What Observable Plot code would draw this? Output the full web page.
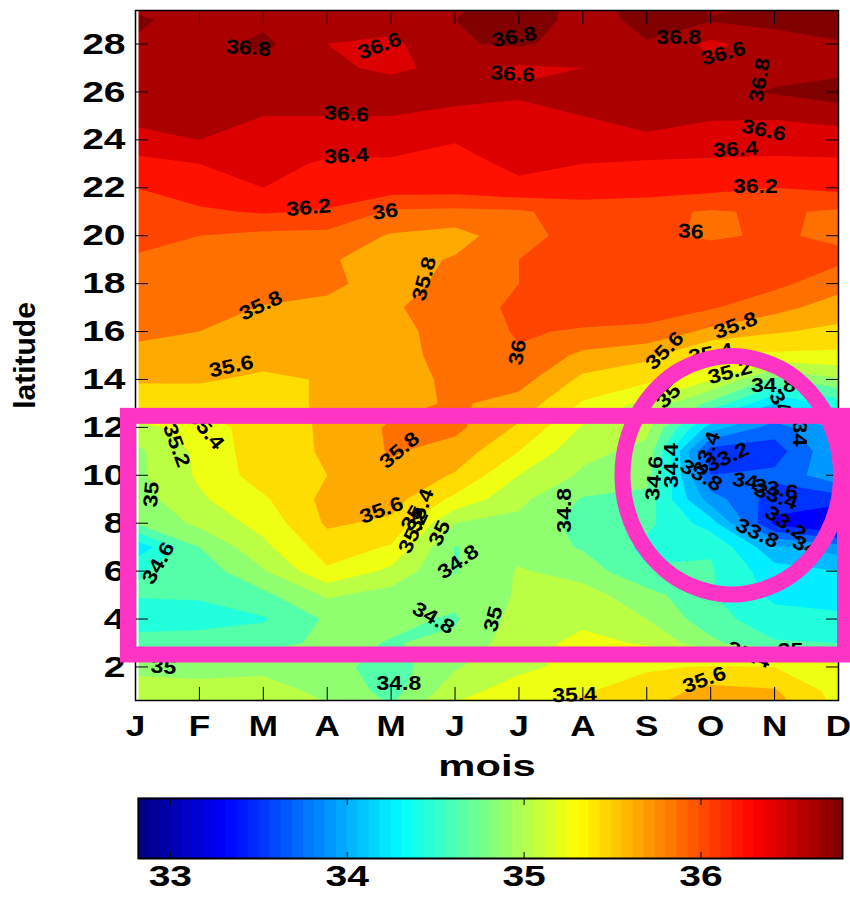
<!DOCTYPE html>
<html><head><meta charset="utf-8">
<script src="https://cdn.jsdelivr.net/npm/d3@7"></script>
<script src="https://cdn.jsdelivr.net/npm/@observablehq/plot@0.6"></script>
<style>html,body{margin:0;padding:0;background:#fff}svg{display:block}</style>
</head><body>
<div id="chart"></div>
<script>
const months = ["J","F","M","A","M","J","J","A","S","O","N","D"];
const monthTicks = [1,2,3,4,5,6,7,8,9,10,11,12];
const latTicks = [2,4,6,8,10,12,14,16,18,20,22,24,26,28];
const barTicks = [33,34,35,36];
const thresholds = [32.8,33,33.2,33.4,33.6,33.8,34,34.2,34.4,34.6,34.8,35,35.2,35.4,35.6,35.8,36,36.2,36.4,36.6,36.8];
const bandColors = ["#000099","#0000DD","#0000FF","#0033FF","#0066FF","#0099FF","#00BBFF","#00EEFF","#22FFDD","#55FFAA","#8FFF70","#BBFF44","#EEFF11","#FFDD00","#FFAA00","#FF7000","#FF4400","#FF1100","#DD0000","#AA0000","#800000"];

// salinity, one row per degree of latitude, one column per month
const lat00 = [35.1,35.1,35.1,35.03,34.85,35.3,35.42,35.5,35.62,35.8,35.75,35.38];
const lat01 = [35.05,35.05,35.05,34.97,34.72,35.12,35.3,35.38,35.5,35.66,35.62,35.32];
const lat02 = [34.97,34.95,34.97,34.88,34.7,34.98,35.15,35.27,35.37,35.42,35.4,35.33];
const lat03 = [34.72,34.72,34.72,34.85,34.79,34.84,35.12,35.25,35.18,34.85,34.62,34.6];
const lat04 = [34.45,34.5,34.58,34.83,34.84,34.78,35.08,35.16,35.0,34.68,34.48,34.45];
const lat05 = [34.62,34.63,34.75,35.03,34.92,34.85,35.02,35.08,34.88,34.62,34.35,34.3];
const lat06 = [34.58,34.68,34.98,35.37,35.15,34.79,35.02,34.92,34.62,34.62,34.28,34.2];
const lat07 = [34.25,34.8,35.15,35.5,35.38,34.79,34.92,34.78,34.55,34.58,34.05,33.9];
const lat08 = [34.8,35.05,35.27,35.63,35.56,35.0,34.95,34.72,34.65,34.3,33.35,33.1];
const lat09 = [34.9,35.17,35.37,35.66,35.68,35.35,35.05,34.78,34.72,33.9,33.5,33.5];
const lat10 = [34.95,35.23,35.5,35.6,35.75,35.58,35.2,34.97,34.9,33.6,33.65,33.95];
const lat11 = [34.95,35.25,35.52,35.62,35.82,35.72,35.4,35.05,34.95,33.5,33.5,34.0];
const lat12 = [35.12,35.3,35.5,35.63,35.83,35.85,35.57,35.18,35.05,34.1,33.7,34.05];
const lat13 = [35.5,35.45,35.5,35.64,35.72,35.83,35.72,35.38,35.15,34.75,34.2,34.5];
const lat14 = [35.62,35.63,35.55,35.62,35.7,35.85,35.88,35.55,35.45,35.22,34.75,34.98];
const lat15 = [35.75,35.72,35.7,35.68,35.72,35.88,35.98,35.75,35.65,35.35,35.36,35.35];
const lat16 = [35.84,35.8,35.74,35.72,35.74,35.88,36.02,35.98,35.95,35.75,35.62,35.55];
const lat17 = [35.89,35.87,35.79,35.76,35.78,35.88,36.05,36.1,36.1,36.02,35.87,35.7];
const lat18 = [35.93,35.93,35.88,35.84,35.72,35.86,36.0,36.12,36.12,36.1,36.05,35.88];
const lat19 = [35.98,35.96,35.92,35.82,35.72,35.82,36.0,36.12,36.1,36.08,36.08,36.04];
const lat20 = [36.06,36.0,35.95,35.94,35.78,35.72,35.93,36.08,36.03,35.98,36.02,35.97];
const lat21 = [36.13,36.17,36.22,36.18,35.97,35.95,35.97,36.1,36.05,35.98,36.03,35.97];
const lat22 = [36.2,36.3,36.4,36.32,36.3,36.29,36.36,36.3,36.3,36.26,36.2,36.25];
const lat23 = [36.33,36.4,36.47,36.37,36.37,36.34,36.44,36.4,36.37,36.36,36.35,36.36];
const lat24 = [36.53,36.6,36.53,36.5,36.48,36.41,36.5,36.52,36.57,36.52,36.5,36.52];
const lat25 = [36.66,36.64,36.6,36.6,36.6,36.58,36.56,36.6,36.66,36.62,36.62,36.66];
const lat26 = [36.68,36.68,36.68,36.66,36.65,36.63,36.62,36.66,36.7,36.72,36.82,36.92];
const lat27 = [36.7,36.7,36.72,36.62,36.58,36.63,36.57,36.6,36.7,36.63,36.72,36.72];
const lat28 = [36.78,36.72,36.85,36.6,36.55,36.78,36.83,36.72,36.79,36.55,36.72,36.78];
const lat29 = [36.83,36.73,36.75,36.7,36.7,36.8,36.92,36.72,36.85,36.82,36.85,36.9];
const lat30 = [36.72,36.7,36.72,36.7,36.7,36.7,36.95,36.72,36.92,36.72,36.78,36.95];
const salinity = [lat00,lat01,lat02,lat03,lat04,lat05,lat06,lat07,lat08,lat09,lat10,lat11,lat12,lat13,lat14,lat15,lat16,lat17,lat18,lat19,lat20,lat21,lat22,lat23,lat24,lat25,lat26,lat27,lat28,lat29,lat30].flat();

const labelText  = ["36.8","36.6","36.8","36.6","36.8","36.6","36.8","36.6","36.4","36.2","36","36.6","36.4","36.2","36","35.8","35.8","35.6","36","35.6","35.8","35.4","35.2","34.8","35","34","34","34.6","34.4","33.4","33.2","33.8","34","33.6","33.4","33.2","33.8","34","35.8","35.6","35.4","35","35.2","35","34.8","34.8","35","34.8","35.2","35.4","35","34.6","35","34.8","35.4","35.6","35.4","35"];
const labelMonth = [2.77,4.82,6.93,6.9,9.5,10.2,10.77,10.83,10.39,10.7,9.69,4.3,4.3,3.71,4.91,2.96,5.52,2.5,6.98,9.28,10.39,10,10.3,10.98,9.34,11.09,11.39,9.12,9.39,9.94,10.26,9.85,10.54,11.02,11.02,11.17,10.73,11.48,5.13,4.85,5.46,5.33,5.35,5.76,6.05,5.66,6.6,7.71,1.64,2.1,1.25,1.36,1.44,5.12,7.87,9.9,10.6,11.25];
const labelLat   = [27.83,27.92,28.29,26.75,28.25,27.6,26.5,24.4,23.6,22.04,20.17,25.08,23.33,21.17,21,17.08,18.2,14.54,15.13,15.2,16.25,15.08,14.3,13.75,13.3,13,11.75,9.88,10.4,10.92,10.75,10,9.75,9.42,9.12,8,7.58,7.04,11.04,8.54,8.54,8.21,7.63,7.58,6.38,4.04,4,8.54,11.25,11.9,9.2,6.33,2,1.3,0.83,1.46,2.5,2.7];
const labelAngle = [4,-20,-10,3,0,-15,-80,12,-3,0,3,3,-3,-5,-8,-25,-75,-12,-80,-45,-20,-10,-15,0,-45,60,90,-85,-90,-70,-25,30,10,10,20,35,25,25,-40,-20,-70,-60,-65,-65,-35,30,-75,-90,70,50,-85,-60,5,0,-2,-20,20,0];
const labels = labelText.map((t,i)=>({t,m:labelMonth[i],l:labelLat[i],a:labelAngle[i]}));

// hand-drawn pink annotations in month / latitude units
const boxMonth = [0.89,12.11];
const boxLat = [2.5,12.46];
const ringMonth = [12.04,11.81,11.19,10.33,9.47,8.85,8.62,8.85,9.47,10.33,11.19,11.81];
const ringLat = [10,12.49,14.31,14.98,14.31,12.49,10,7.51,5.69,5.02,5.69,7.51];
const ring = ringMonth.map((m,i)=>({m,l:ringLat[i]}));
const pink = "#FF33C4";

const font = "'Liberation Sans', Arial, sans-serif";

const main = Plot.plot({
  width:850, height:780, marginLeft:135, marginRight:12, marginTop:10, marginBottom:80,
  style:{fontFamily:font, background:"white", color:"black"},
  x:{domain:[1,12], axis:null}, y:{domain:[0.6,29.4], axis:null},
  color:{type:"threshold", domain:thresholds, range:["#000",...bandColors], legend:false},
  marks:[
    Plot.contour(salinity,{width:12,height:31,x1:0.5,x2:12.5,y1:-0.5,y2:30.5,fill:Plot.identity,thresholds,clip:true,stroke:"none"}),
    Plot.ruleX([1],{stroke:"white",strokeWidth:3,dx:1.5}),
    Plot.text(labels,{x:"m",y:"l",text:"t",rotate:"a",fontSize:20,fontWeight:"bold",fill:"black",className:"clabel"}),
    Plot.axisX({anchor:"bottom",ticks:monthTicks,tickSize:-13,tickPadding:27,tickFormat:d=>months[d-1],fontSize:30,fontWeight:"bold",label:null,className:"xt"}),
    Plot.axisX({anchor:"top",ticks:monthTicks,tickSize:-13,text:null,label:null}),
    Plot.axisY({anchor:"left",ticks:latTicks,tickSize:-13,tickPadding:23,fontSize:30,fontWeight:"bold",label:null,className:"yt"}),
    Plot.axisY({anchor:"right",ticks:latTicks,tickSize:-13,text:null,label:null}),
    Plot.frame({stroke:"black",strokeWidth:1.5}),
    Plot.text(["mois"],{frameAnchor:"bottom",x:[6.5],dy:75,fontSize:30,fontWeight:"bold",className:"xl"}),
    Plot.text(["latitude"],{frameAnchor:"left",textAnchor:"middle",y:[15],dx:-110,rotate:-90,fontSize:30,fontWeight:"bold"}),
    Plot.rect([0],{x1:[boxMonth[0]],x2:[boxMonth[1]],y1:[boxLat[0]],y2:[boxLat[1]],fill:"none",stroke:pink,strokeWidth:16}),
    Plot.line(ring,{x:"m",y:"l",curve:"catmull-rom-closed",stroke:pink,strokeWidth:16,fill:"none"})
  ]
});

const jet = i => { const v=(i+0.5)/64*4; const c=k=>Math.round(255*Math.max(0,Math.min(1,1.5-Math.abs(v-k)))); return `rgb(${c(3)},${c(2)},${c(1)})`; };
const barLo = 32.82, barHi = 36.8, barSteps = d3.range(64);
const bar = Plot.plot({
  width:850, height:117, marginLeft:138, marginRight:8, marginTop:18, marginBottom:39,
  style:{fontFamily:font, background:"white", color:"black"},
  x:{domain:[barLo,barHi], axis:null}, y:{domain:[0,1], axis:null},
  marks:[
    Plot.rect(barSteps,{x1:i=>barLo+(barHi-barLo)*i/64,x2:i=>barLo+(barHi-barLo)*(i+1)/64,y1:0,y2:1,fill:i=>jet(i),inset:-0.3}),
    Plot.axisX({anchor:"bottom",ticks:barTicks,tickSize:-6,tickPadding:12,tickFormat:d=>String(d),fontSize:30,fontWeight:"bold",label:null,className:"yt"}),
    Plot.axisX({anchor:"top",ticks:barTicks,tickSize:-6,text:null,label:null}),
    Plot.frame({stroke:"black",strokeWidth:2})
  ]
});

const host = document.getElementById("chart");
host.append(main, bar);
const stretch = (sel,k)=>host.querySelectorAll(sel).forEach(t=>{
  const n=t.getComputedTextLength(); t.setAttribute("textLength",n*k); t.setAttribute("lengthAdjust","spacingAndGlyphs");
});
stretch(".clabel text",1.15);
stretch(".xt text",1.17);
stretch(".yt text",1.3);
stretch(".xl text",1.39);
</script>
</body></html>
